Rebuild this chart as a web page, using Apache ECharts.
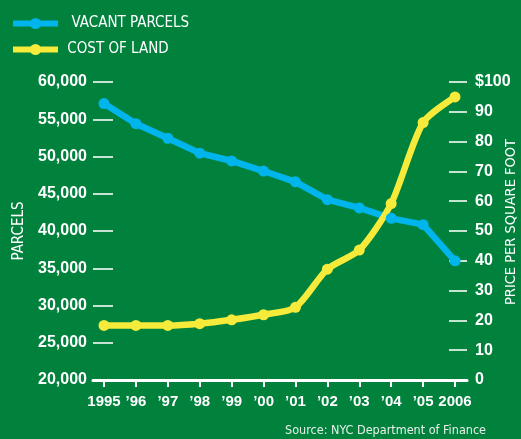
<!DOCTYPE html>
<html>
<head>
<meta charset="utf-8">
<script src="https://cdn.jsdelivr.net/npm/echarts@6/dist/echarts.min.js"></script>
<style>
  html, body { margin: 0; padding: 0; background: #00823d; }
  #chart { width: 521px; height: 439px; }
</style>
</head>
<body>
<div id="chart"></div>
<script>
const years = [1995, 1996, 1997, 1998, 1999, 2000, 2001, 2002, 2003, 2004, 2005, 2006]
const yearLabels = ['1995', '\u201996', '\u201997', '\u201998', '\u201999', '\u201900', '\u201901', '\u201902', '\u201903', '\u201904', '\u201905', '2006']
const vacantParcels = [57100, 54400, 52450, 50450, 49400, 48050, 46600, 44200, 43100, 41700, 40850, 36000]
const costOfLand = [18.3, 18.3, 18.3, 18.9, 20.2, 21.9, 24.4, 37.2, 43.6, 59.2, 86.4, 95]

const white = '#ffffff'
const tickColor = 'rgba(255, 255, 255, 0.78)'
const boldFont = { color: white, fontFamily: 'Liberation Sans', fontWeight: 'bold', fontSize: 16 }
const narrow = '"DejaVu Sans Condensed", Roboto, sans-serif'

const chart = echarts.init(document.getElementById('chart'))

chart.setOption({
  backgroundColor: '#00823d',
  animation: false,
  title: {
    text: 'Source: NYC Department of Finance',
    right: 35,
    top: 424,
    padding: 0,
    textStyle: { color: '#e6efe8', fontFamily: narrow, fontWeight: 'normal', fontSize: 12.5 }
  },
  // right axis title, placed by hand
  graphic: [{
    type: 'text',
    x: 511,
    y: 222,
    rotation: Math.PI / 2,
    style: {
      text: 'PRICE PER SQUARE FOOT',
      fill: white,
      font: '14.5px "DejaVu Sans Condensed", Roboto, sans-serif',
      align: 'center',
      verticalAlign: 'middle'
    }
  }],
  legend: {
    orient: 'vertical',
    left: 10,
    top: 16,
    padding: 0,
    itemWidth: 45,
    itemHeight: 14,
    itemGap: 11,
    lineStyle: { width: 6 },
    formatter: name => (name === 'VACANT PARCELS' ? '  ' : ' ') + name,
    textStyle: { color: white, fontFamily: narrow, fontSize: 15 }
  },
  grid: { left: 93, right: 54, top: 82, bottom: 59 },
  xAxis: {
    type: 'value',
    min: 1994.655,
    max: 2006.376,
    splitLine: { show: false },
    axisLine: { show: true, onZero: false, lineStyle: { color: white, width: 3 } },
    axisTick: { show: true, customValues: years, length: 7, lineStyle: { color: white, width: 2 } },
    axisLabel: Object.assign({}, boldFont, {
      fontSize: 15,
      customValues: years,
      margin: 14,
      formatter: v => yearLabels[years.indexOf(Math.round(v))]
    })
  },
  yAxis: [
    {
      type: 'value',
      min: 20000,
      max: 60000,
      interval: 5000,
      name: 'PARCELS',
      nameLocation: 'middle',
      nameGap: 66,
      nameRotate: 90,
      nameTextStyle: { color: white, fontFamily: narrow, fontSize: 15 },
      splitLine: { show: false },
      axisLine: { show: false },
      axisTick: { show: true, inside: true, length: 20, lineStyle: { color: tickColor, width: 2 } },
      axisLabel: Object.assign({
        margin: 6,
        formatter: v => v.toLocaleString('en-US')
      }, boldFont)
    },
    {
      type: 'value',
      min: 0,
      max: 100,
      interval: 10,
      position: 'right',
      splitLine: { show: false },
      axisLine: { show: false },
      axisTick: { show: true, inside: true, length: 18, lineStyle: { color: tickColor, width: 2 } },
      axisLabel: Object.assign({
        margin: 8,
        formatter: v => (v === 100 ? '$100' : String(v))
      }, boldFont)
    }
  ],
  series: [
    {
      name: 'VACANT PARCELS',
      type: 'line',
      yAxisIndex: 0,
      data: years.map((y, i) => [y, vacantParcels[i]]),
      symbol: 'circle',
      symbolSize: 11,
      color: '#00b4ec',
      lineStyle: { width: 6.5 }
    },
    {
      name: 'COST OF LAND',
      type: 'line',
      yAxisIndex: 1,
      data: years.map((y, i) => [y, costOfLand[i]]),
      symbol: 'circle',
      symbolSize: 11,
      smooth: 0.25,
      color: '#f6ea3b',
      lineStyle: { width: 6.5 }
    }
  ]
})
</script>
</body>
</html>
